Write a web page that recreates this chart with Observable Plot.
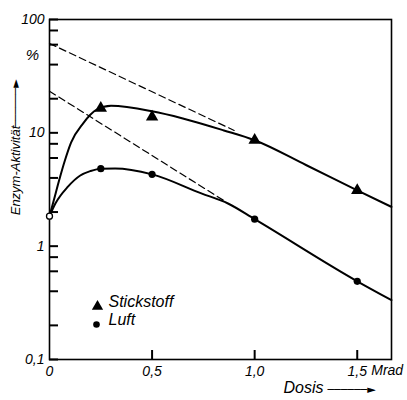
<!DOCTYPE html>
<html>
<head>
<meta charset="utf-8">
<script src="https://cdn.jsdelivr.net/npm/d3@7"></script>
<script src="https://cdn.jsdelivr.net/npm/@observablehq/plot@0.6"></script>
<style>
  html, body { margin: 0; padding: 0; background: #fff; }
</style>
</head>
<body>
<div id="chart"></div>
<script>
// ---- data ----
const seriesNames = ["Stickstoff", "Luft"];
const doses = [0.25, 0.5, 1.0, 1.5];
const stickstoffValues = [16.5, 13.8, 8.6, 3.1];
const luftValues = [4.83, 4.3, 1.73, 0.49];
const startDose = [0];
const startValue = [1.84];

// smooth fitted curves
const stickCurveDose = [0, 0.02, 0.045, 0.075, 0.105, 0.165, 0.23, 0.3, 0.5, 0.65, 0.85, 1.0, 1.25, 1.5, 1.667];
const stickCurveValue = [1.84, 2.5, 3.7, 5.7, 8.2, 12.2, 16.0, 17.3, 15.5, 13.4, 10.5, 8.6, 5.2, 3.1, 2.22];
const luftCurveDose = [0, 0.03, 0.09, 0.15, 0.2, 0.25, 0.32, 0.5, 0.74, 0.87, 1.0, 1.5, 1.667];
const luftCurveValue = [1.84, 2.4, 3.35, 4.2, 4.6, 4.83, 4.85, 4.3, 2.92, 2.38, 1.73, 0.49, 0.334];

// dashed extrapolation lines
const stickDashDose = [0, 0.9];
const stickDashValue = [61.5, 10.5];
const luftDashDose = [0, 0.86];
const luftDashValue = [23.3, 2.46];

// axes
const doseDomain = [0, 1.667];
const activityDomain = [0.1, 100];
const doseTicks = [0, 0.5, 1.0, 1.5];
const doseTickLabels = ["0", "0,5", "1,0", "1,5"];
const doseUnit = "Mrad";
const activityTicks = [0.1, 1, 10, 100];
const activityTickLabels = ["0,1", "1", "10", "100"];
const activityMinorTicks = [0.2, 0.4, 0.6, 0.8, 2, 4, 6, 8, 20, 40, 60, 80];
const activityUnit = "%";
const activityUnitAt = [48];
const xTitle = "Dosis";
const yTitle = "Enzym-Aktivität";
const arrowGlyph = "──────►";
const arrowGlyphY = "──────►";

// ---- build tables ----
const pts = (xs, ys) => xs.map((x, i) => ({x, y: ys[i]}));
const curves = [
  ...pts(stickCurveDose, stickCurveValue).map(d => ({...d, s: seriesNames[0]})),
  ...pts(luftCurveDose, luftCurveValue).map(d => ({...d, s: seriesNames[1]}))
];
const dashes = [
  ...pts(stickDashDose, stickDashValue).map(d => ({...d, s: seriesNames[0]})),
  ...pts(luftDashDose, luftDashValue).map(d => ({...d, s: seriesNames[1]}))
];
const stickPts = pts(doses, stickstoffValues);
const luftPts = pts(doses, luftValues);
const startPts = pts(startDose, startValue);
const xLab = new Map(doseTicks.map((d, i) => [d, doseTickLabels[i]]));
const yLab = new Map(activityTicks.map((d, i) => [d, activityTickLabels[i]]));

const font = "Liberation Sans, Arial, sans-serif";
const W = 407, H = 400, mL = 49, mR = 16, mT = 19, mB = 41;
const frameW = W - mL - mR, frameH = H - mT - mB;
const tickLen = 9;

const chart = Plot.plot({
  width: W,
  height: H,
  marginLeft: mL,
  marginRight: mR,
  marginTop: mT,
  marginBottom: mB,
  style: {fontFamily: font, fontStyle: "italic", fontSize: "14px"},
  x: {domain: doseDomain},
  y: {type: "log", domain: activityDomain},
  marks: [
    // tick labels
    Plot.axisY(activityTicks, {tickSize: 0, tickPadding: 5, tickFormat: d => yLab.get(d), label: null, fontSize: 14, fontStyle: "italic"}),
    Plot.axisX(doseTicks, {tickSize: 0, tickPadding: 7, tickFormat: d => xLab.get(d), label: null, fontSize: 14, fontStyle: "italic"}),
    Plot.text([doseUnit], {x: doseTicks.slice(3), frameAnchor: "bottom", dx: 14, dy: 15, textAnchor: "start", fontSize: 14, fontStyle: "italic"}),
    Plot.text([activityUnit], {y: activityUnitAt, frameAnchor: "left", dx: -17, textAnchor: "middle", fontSize: 15, fontStyle: "italic"}),
    // axis titles
    Plot.text([xTitle], {frameAnchor: "bottom-right", dx: -68, dy: 33, textAnchor: "end", fontSize: 16, fontStyle: "italic"}),
    Plot.text([arrowGlyph], {frameAnchor: "bottom-right", dx: -40, dy: 33, textAnchor: "middle", fontSize: 11, fontStyle: "normal", fontFamily: "DejaVu Sans"}),
    Plot.text([yTitle], {frameAnchor: "left", rotate: -90, dx: -34, dy: -19, textAnchor: "middle", fontSize: 13, fontStyle: "italic"}),
    Plot.text([arrowGlyphY], {frameAnchor: "left", rotate: -90, dx: -34, dy: -86, textAnchor: "middle", fontSize: 11, fontStyle: "normal", fontFamily: "DejaVu Sans"}),
    Plot.frame({strokeWidth: 1.6}),
    // inward ticks
    Plot.tickY([...activityTicks, ...activityMinorTicks], {insetRight: frameW - tickLen, stroke: "#000", strokeWidth: 2}),
    Plot.tickX(doseTicks.slice(1), {insetTop: frameH - tickLen, stroke: "#000", strokeWidth: 2}),
    // dashed extrapolations
    Plot.line(dashes, {x: "x", y: "y", z: "s", stroke: "black", strokeWidth: 1.2, strokeDasharray: "7,4"}),
    // curves
    Plot.line(curves, {x: "x", y: "y", z: "s", stroke: "black", strokeWidth: 2, curve: "monotone-x"}),
    // data points
    Plot.dot(stickPts, {x: "x", y: "y", symbol: "triangle", r: 4.6, fill: "black"}),
    Plot.dot(luftPts, {x: "x", y: "y", symbol: "circle", r: 3.6, fill: "black"}),
    Plot.dot(startPts, {x: "x", y: "y", symbol: "circle", r: 3, fill: "white", stroke: "black", strokeWidth: 1.3}),
    // legend
    Plot.dot([seriesNames[0]], {frameAnchor: "bottom-left", dx: 48, dy: -53, symbol: "triangle", r: 4.2, fill: "black"}),
    Plot.dot([seriesNames[1]], {frameAnchor: "bottom-left", dx: 47, dy: -35, symbol: "circle", r: 3.3, fill: "black"}),
    Plot.text([seriesNames[0]], {frameAnchor: "bottom-left", dx: 59, dy: -53, textAnchor: "start", fontSize: 16, fontStyle: "italic"}),
    Plot.text([seriesNames[1]], {frameAnchor: "bottom-left", dx: 59, dy: -35, textAnchor: "start", fontSize: 16, fontStyle: "italic"})
  ]
});
document.getElementById("chart").appendChild(chart);
</script>
</body>
</html>
